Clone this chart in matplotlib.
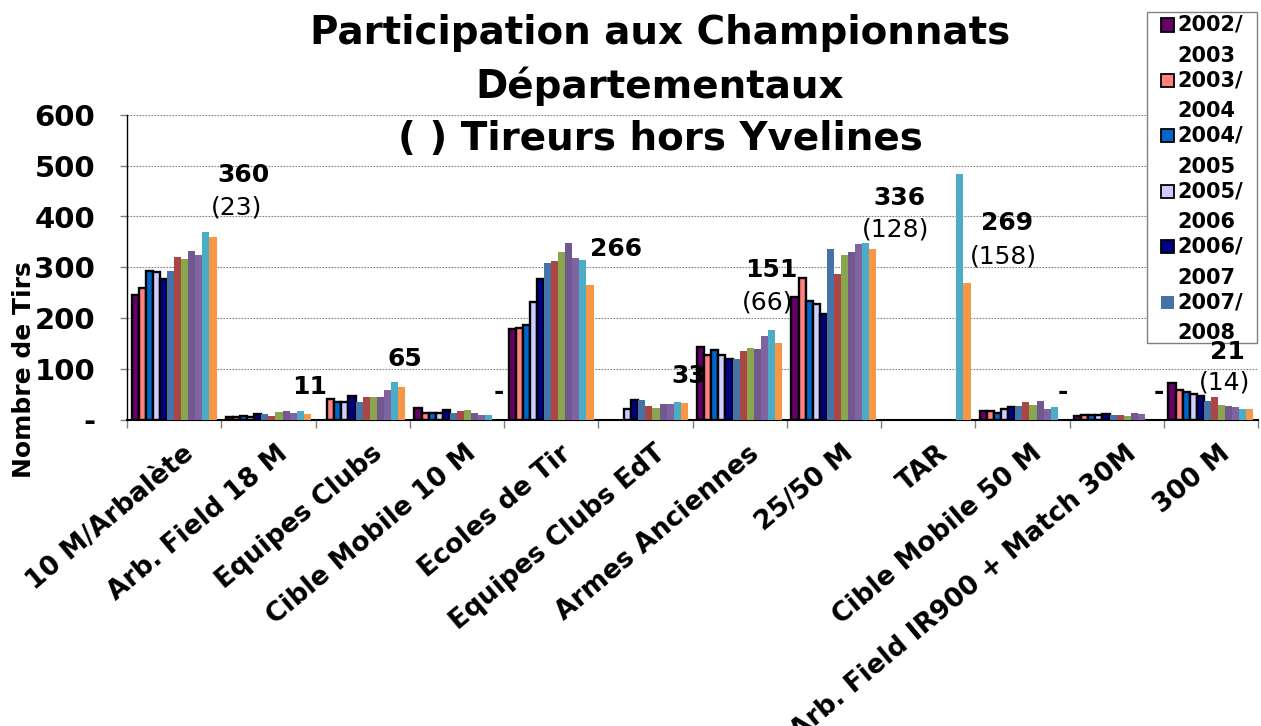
import matplotlib
matplotlib.use("Agg")
import matplotlib.pyplot as plt
import matplotlib.transforms as mtransforms
from matplotlib.patches import Rectangle
import numpy as np

# ---------------- data ----------------
categories = ["10 M/Arbalète", "Arb. Field 18 M", "Equipes Clubs", "Cible Mobile 10 M",
              "Ecoles de Tir", "Equipes Clubs EdT", "Armes Anciennes", "25/50 M", "TAR",
              "Cible Mobile 50 M", "Arb. Field IR900 + Match 30M", "300 M"]

seasons = ["2002/2003", "2003/2004", "2004/2005", "2005/2006", "2006/2007", "2007/2008",
           "2008/2009", "2009/2010", "2010/2011", "2011/2012", "2012/2013", "2013/2014"]

s2002 = [245, 4, 0, 23, 178, 0, 143, 241, 0, 17, 7, 72]
s2003 = [260, 4, 40, 13, 180, 0, 128, 278, 0, 17, 8, 59]
s2004 = [293, 7, 34, 13, 187, 0, 136, 233, 0, 12, 8, 55]
s2005 = [290, 4, 34, 13, 231, 20, 128, 227, 0, 20, 8, 51]
s2006 = [276, 10, 46, 18, 277, 39, 120, 208, 0, 25, 11, 47]
s2007 = [293, 10, 34, 12, 309, 38, 119, 335, 0, 26, 8, 37]
s2008 = [321, 7, 45, 16, 312, 27, 135, 287, 0, 35, 8, 44]
s2009 = [317, 14, 45, 18, 330, 23, 141, 324, 0, 29, 7, 28]
s2010 = [333, 16, 45, 12, 347, 30, 139, 330, 0, 37, 13, 27]
s2011 = [324, 12, 59, 8, 318, 30, 165, 346, 0, 20, 10, 24]
s2012 = [369, 17, 74, 8, 314, 35, 176, 348, 484, 24, 0, 20]
s2013 = [360, 11, 65, 0, 266, 33, 151, 336, 269, 0, 0, 21]

series = [s2002, s2003, s2004, s2005, s2006, s2007, s2008, s2009, s2010, s2011, s2012, s2013]

# shooters from outside Yvelines (shown in brackets), "" when not given
hors_yvelines = ["(23)", "", "", "", "", "", "(66)", "(128)", "(158)", "", "", "(14)"]

y_ticks = [0, 100, 200, 300, 400, 500, 600]
y_ticklabels = ["-", "100", "200", "300", "400", "500", "600"]

title_lines = ["Participation aux Championnats", "Départementaux", "( ) Tireurs hors Yvelines"]
y_title = "Nombre de Tirs"

# ---------------- style ----------------
colors = ["#660066", "#FF8080", "#0066CC", "#CCCCFF", "#000080", "#4572A7",
          "#AA4643", "#89A54E", "#71588F", "#8064A2", "#4BACC6", "#F79646"]
edged = [True, True, True, True, True, False, False, False, False, False, False, False]

# label offsets in pixels (value label, bracket label) relative to last bar top
val_off = [(30, 62), (2, 27), (3, 28), (3, 27), (26, 36), (4, 27), (-7, 73), (27, 51),
           (40, 60), (2, 27), (3, 27), (-22, 57)]
hor_off = [(24, 29), None, None, None, None, None, (-11, 40), (23, 19), (36, 26),
           None, None, (-25, 26)]

W, H = 1261, 726
plt.rcParams['font.family'] = ['DejaVu Sans']

fig = plt.figure(figsize=(W / 100, H / 100), dpi=100)
fig.patch.set_facecolor("white")


def fx(x):
    return x / W


def fy(y):
    return 1 - y / H


ax = fig.add_axes([fx(127), fy(419.5), fx(1258) - fx(127), fy(115) - fy(419.5)])

n_ser = len(series)
n_cat = len(categories)
bw = 0.9 / n_ser
x = np.arange(n_cat)

for i, vals in enumerate(series):
    vals = np.asarray(vals, dtype=float)
    pos = x + (i - (n_ser - 1) / 2) * bw
    keep = vals > 0
    if edged[i]:
        ax.bar(pos[keep], vals[keep], width=bw, color=colors[i], edgecolor="black",
               linewidth=1.7, zorder=3)
    else:
        ax.bar(pos[keep], vals[keep], width=bw, color=colors[i], edgecolor="none",
               linewidth=0, zorder=3)

ax.set_xlim(-0.5, n_cat - 0.5)
ax.set_ylim(0, 600)

# gridlines
ax.set_yticks(y_ticks)
ax.set_yticklabels(y_ticklabels, fontsize=21, fontweight="bold")
for yv in y_ticks[1:]:
    ax.axhline(yv, color="#808080", linewidth=0.8, linestyle=(0, (1.5, 1.2)), zorder=1)

ax.tick_params(axis="y", direction="out", length=5, color="#808080", width=1, pad=18)

# x ticks: boundaries as minor ticks, labels at centers
ax.set_xticks(x)
ax.set_xticks(np.arange(-0.5, n_cat, 1.0), minor=True)
ax.tick_params(axis="x", which="major", length=0, pad=15)
ax.tick_params(axis="x", which="minor", length=6, color="#808080", width=1, direction="out")
ax.set_xticklabels(categories, rotation=40, ha="right", va="top", rotation_mode="anchor",
                   fontsize=19, fontweight="bold")
offset = mtransforms.ScaledTranslation(8 / 100, 0, fig.dpi_scale_trans)
for lab in ax.get_xticklabels():
    lab.set_transform(lab.get_transform() + offset)

for sp in ["top", "right"]:
    ax.spines[sp].set_visible(False)
ax.spines["left"].set_color("black")
ax.spines["left"].set_linewidth(1.0)
ax.spines["bottom"].set_color("black")
ax.spines["bottom"].set_linewidth(1.5)
ax.set_facecolor("none")

# y axis title
fig.text(fx(24), fy(370), y_title, rotation=90, ha="center", va="center",
         fontsize=18, fontweight="bold")

# title
title_y = [33, 86, 139]
for t, yy in zip(title_lines, title_y):
    fig.text(fx(660), fy(yy), t, ha="center", va="center", fontsize=28, fontweight="bold")

# legend (manual, clipped like the original)
lx0, ly0, lx1, ly1 = 1147, 12, 1257, 343
rect = Rectangle((fx(lx0), fy(ly1)), fx(lx1) - fx(lx0), fy(ly0) - fy(ly1),
                 transform=fig.transFigure, facecolor="white", edgecolor="#808080",
                 linewidth=1.0, zorder=10)
fig.patches.append(rect)
clip = mtransforms.TransformedBbox(
    mtransforms.Bbox([[fx(lx0), fy(ly1)], [fx(lx1), fy(ly0)]]), fig.transFigure)
pitch = 55.4
for i in range(6):
    cy = 25 + i * pitch
    sq = Rectangle((fx(1161), fy(cy + 6.5)), fx(13), 13 / H, transform=fig.transFigure,
                   facecolor=colors[i], edgecolor="black" if edged[i] else "none",
                   linewidth=1.3 if edged[i] else 0, zorder=11)
    fig.patches.append(sq)
    a, b = seasons[i].split("/")
    t1 = fig.text(fx(1177), fy(cy), a + "/", ha="left", va="center", fontsize=15,
                  fontweight="bold", zorder=12)
    t2 = fig.text(fx(1177), fy(cy + 31), b, ha="left", va="center", fontsize=15,
                  fontweight="bold", zorder=12)
    for t in (t1, t2):
        t.set_clip_box(clip)
        t.set_clip_on(True)

# data labels (last season) and bracketed counts, drawn above the legend box
last = series[-1]
for j in range(n_cat):
    bx = x[j] + (n_ser - 1) / 2 * bw
    v = last[j]
    txt = "-" if v == 0 else f"{v}"
    tr = mtransforms.offset_copy(ax.transData, fig=fig, x=val_off[j][0], y=val_off[j][1],
                                 units="dots")
    fig.text(bx, v, txt, transform=tr, ha="center", va="center", fontsize=18,
             fontweight="bold", zorder=14)
    if hors_yvelines[j]:
        tr2 = mtransforms.offset_copy(ax.transData, fig=fig, x=hor_off[j][0],
                                      y=hor_off[j][1], units="dots")
        fig.text(bx, v, hors_yvelines[j], transform=tr2, ha="center", va="center",
                 fontsize=18, fontweight="normal", zorder=14)

fig.savefig("out.png", dpi=100, facecolor="white")
